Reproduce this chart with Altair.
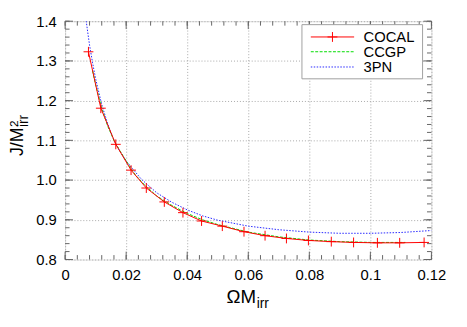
import altair as alt
import pandas as pd

# ---- data ----
cocal_x = [0.00765, 0.0117, 0.0166, 0.0216, 0.0266, 0.0325, 0.0386, 0.0447, 0.0515,
           0.0586, 0.0655, 0.0725, 0.0797, 0.0872, 0.0945, 0.1023, 0.1096, 0.1176]
cocal_y = [1.323, 1.181, 1.090, 1.025, 0.980, 0.945, 0.918, 0.897, 0.884,
           0.870, 0.860, 0.853, 0.848, 0.845, 0.843, 0.842, 0.842, 0.843]

ccgp_x = [0.0090, 0.010, 0.012, 0.014, 0.016, 0.018, 0.020, 0.023, 0.026, 0.030,
          0.035, 0.040, 0.045, 0.050, 0.060, 0.070, 0.080, 0.090, 0.100, 0.1115]
ccgp_y = [1.275, 1.24, 1.18, 1.135, 1.10, 1.073, 1.048, 1.013, 0.988, 0.960,
          0.936, 0.916, 0.900, 0.888, 0.869, 0.857, 0.849, 0.845, 0.843, 0.843]

pn3_x = [0.0060, 0.0070, 0.0080, 0.0090, 0.010, 0.012, 0.014, 0.016, 0.018, 0.020,
         0.025, 0.030, 0.035, 0.040, 0.045, 0.050, 0.060, 0.070, 0.080, 0.090,
         0.100, 0.110, 0.120]
pn3_y = [1.46, 1.395, 1.34, 1.295, 1.255, 1.19, 1.14, 1.10, 1.072, 1.048,
         1.002, 0.968, 0.944, 0.925, 0.910, 0.899, 0.884, 0.875, 0.869, 0.866,
         0.866, 0.868, 0.873]

x_ticks = [0, 0.02, 0.04, 0.06, 0.08, 0.1, 0.12]
y_ticks = [0.8, 0.9, 1.0, 1.1, 1.2, 1.3, 1.4]
x_minor = [round(i * 0.004, 3) for i in range(31)]
y_minor = [round(0.8 + i * 0.02, 2) for i in range(31)]

legend_labels = ["COCAL", "CCGP", "3PN"]
series_colors = ["#ff0000", "#00dd00", "#2828ff"]

W, H = 372, 242
FONT = "Liberation Sans"

xaxis = alt.Axis(values=x_ticks, format=".2~f", title=None, ticks=False, domain=False,
                 grid=True, gridDash=[1, 2], gridColor="#a8a8a8", labelFont=FONT,
                 labelFontSize=15, labelColor="#000", labelPadding=8,
                 labelFlush=False, labelOverlap=False)
yaxis = alt.Axis(values=y_ticks, format=".1f", title=None, ticks=False, domain=False,
                 grid=True, gridDash=[1, 2], gridColor="#a8a8a8", labelFont=FONT,
                 labelFontSize=15, labelColor="#000", labelPadding=9,
                 labelFlush=False, labelOverlap=False)
xs = alt.X("x:Q", scale=alt.Scale(domain=[0, 0.12], nice=False, zero=False), axis=xaxis)
ys = alt.Y("y:Q", scale=alt.Scale(domain=[0.8, 1.4], nice=False, zero=False), axis=yaxis)

cocal = pd.DataFrame({"x": cocal_x, "y": cocal_y})
ccgp = pd.DataFrame({"x": ccgp_x, "y": ccgp_y})
pn3 = pd.DataFrame({"x": pn3_x, "y": pn3_y})

one = pd.DataFrame({"a": [0]})

layers = []

# minor/major ticks (inward, on all four sides)
xmaj = pd.DataFrame({"x": x_ticks})
xmin = pd.DataFrame({"x": x_minor})
ymaj = pd.DataFrame({"y": y_ticks})
ymin = pd.DataFrame({"y": y_minor})
tick_col = "#666666"
for df, ln in [(xmin, 4.5), (xmaj, 8)]:
    layers.append(alt.Chart(df).mark_rule(color=tick_col, strokeWidth=1).encode(
        x=xs, y=alt.value(H), y2=alt.value(H - ln)))
    layers.append(alt.Chart(df).mark_rule(color=tick_col, strokeWidth=1).encode(
        x=xs, y=alt.value(0), y2=alt.value(ln)))
for df, ln in [(ymin, 4.5), (ymaj, 8)]:
    layers.append(alt.Chart(df).mark_rule(color=tick_col, strokeWidth=1).encode(
        y=ys, x=alt.value(0), x2=alt.value(ln)))
    layers.append(alt.Chart(df).mark_rule(color=tick_col, strokeWidth=1).encode(
        y=ys, x=alt.value(W), x2=alt.value(W - ln)))

# data lines
layers.append(alt.Chart(pn3).mark_line(color=series_colors[2], strokeWidth=1,
                                       strokeDash=[1.5, 1.5], clip=True).encode(x=xs, y=ys))
layers.append(alt.Chart(ccgp).mark_line(color=series_colors[1], strokeWidth=1,
                                        strokeDash=[3, 1.5], clip=True).encode(x=xs, y=ys))
layers.append(alt.Chart(cocal).mark_line(color=series_colors[0], strokeWidth=1,
                                         clip=True).encode(x=xs, y=ys))
plus = "M-1,0L1,0M0,-1L0,1"
layers.append(alt.Chart(cocal).mark_point(shape=plus, size=100, filled=False,
                                          color=series_colors[0], strokeWidth=1,
                                          opacity=1).encode(x=xs, y=ys))

# legend box
layers.append(alt.Chart(one).mark_rect(fill="white", stroke="#a0a0a0", strokeWidth=1).encode(
    x=alt.value(240.5), x2=alt.value(363), y=alt.value(3.5), y2=alt.value(58.5)))
rows = [16, 31, 46.5]
dashes = [None, [3, 1.5], [1.5, 1.5]]
for lab, col, ry, dsh in zip(legend_labels, series_colors, rows, dashes):
    kw = dict(color=col, strokeWidth=1)
    if dsh is not None:
        kw["strokeDash"] = dsh
    layers.append(alt.Chart(one).mark_rule(**kw).encode(
        x=alt.value(249.5), x2=alt.value(293.5), y=alt.value(ry)))
    layers.append(alt.Chart(one).mark_text(text=lab, font=FONT, fontSize=15, align="left",
                                           baseline="middle", color="#000").encode(
        x=alt.value(303), y=alt.value(ry + 0.5)))
layers.append(alt.Chart(one).mark_point(shape=plus, size=100, filled=False,
                                        color=series_colors[0], strokeWidth=1, opacity=1).encode(
    x=alt.value(271.5), y=alt.value(rows[0])))

# axis titles (with sub/superscripts)
xj = 194
layers.append(alt.Chart(one).mark_text(text="ΩM", font=FONT, fontSize=19, align="right",
                                       baseline="alphabetic", color="#000").encode(
    x=alt.value(xj), y=alt.value(286)))
layers.append(alt.Chart(one).mark_text(text="irr", font=FONT, fontSize=14, align="left",
                                       baseline="alphabetic", color="#000").encode(
    x=alt.value(xj + 0.5), y=alt.value(291)))

yj = 108
bx = -43
layers.append(alt.Chart(one).mark_text(text="J/M", font=FONT, fontSize=18, align="right",
                                       baseline="alphabetic", angle=270, color="#000").encode(
    x=alt.value(bx), y=alt.value(yj)))
layers.append(alt.Chart(one).mark_text(text="2", font=FONT, fontSize=12, align="left",
                                       baseline="alphabetic", angle=270, color="#000").encode(
    x=alt.value(bx - 5), y=alt.value(yj - 0.5)))
layers.append(alt.Chart(one).mark_text(text="irr", font=FONT, fontSize=14, align="left",
                                       baseline="alphabetic", angle=270, color="#000").encode(
    x=alt.value(bx + 5), y=alt.value(yj - 0.5)))

chart = alt.layer(*layers).properties(
    width=W, height=H, autosize="none",
    padding={"left": 58, "top": 11, "right": 28, "bottom": 58},
).configure_view(stroke="#555555", strokeWidth=1.2).configure(background="white")

chart.save("out.html", embed_options={"renderer": "svg", "actions": False})
